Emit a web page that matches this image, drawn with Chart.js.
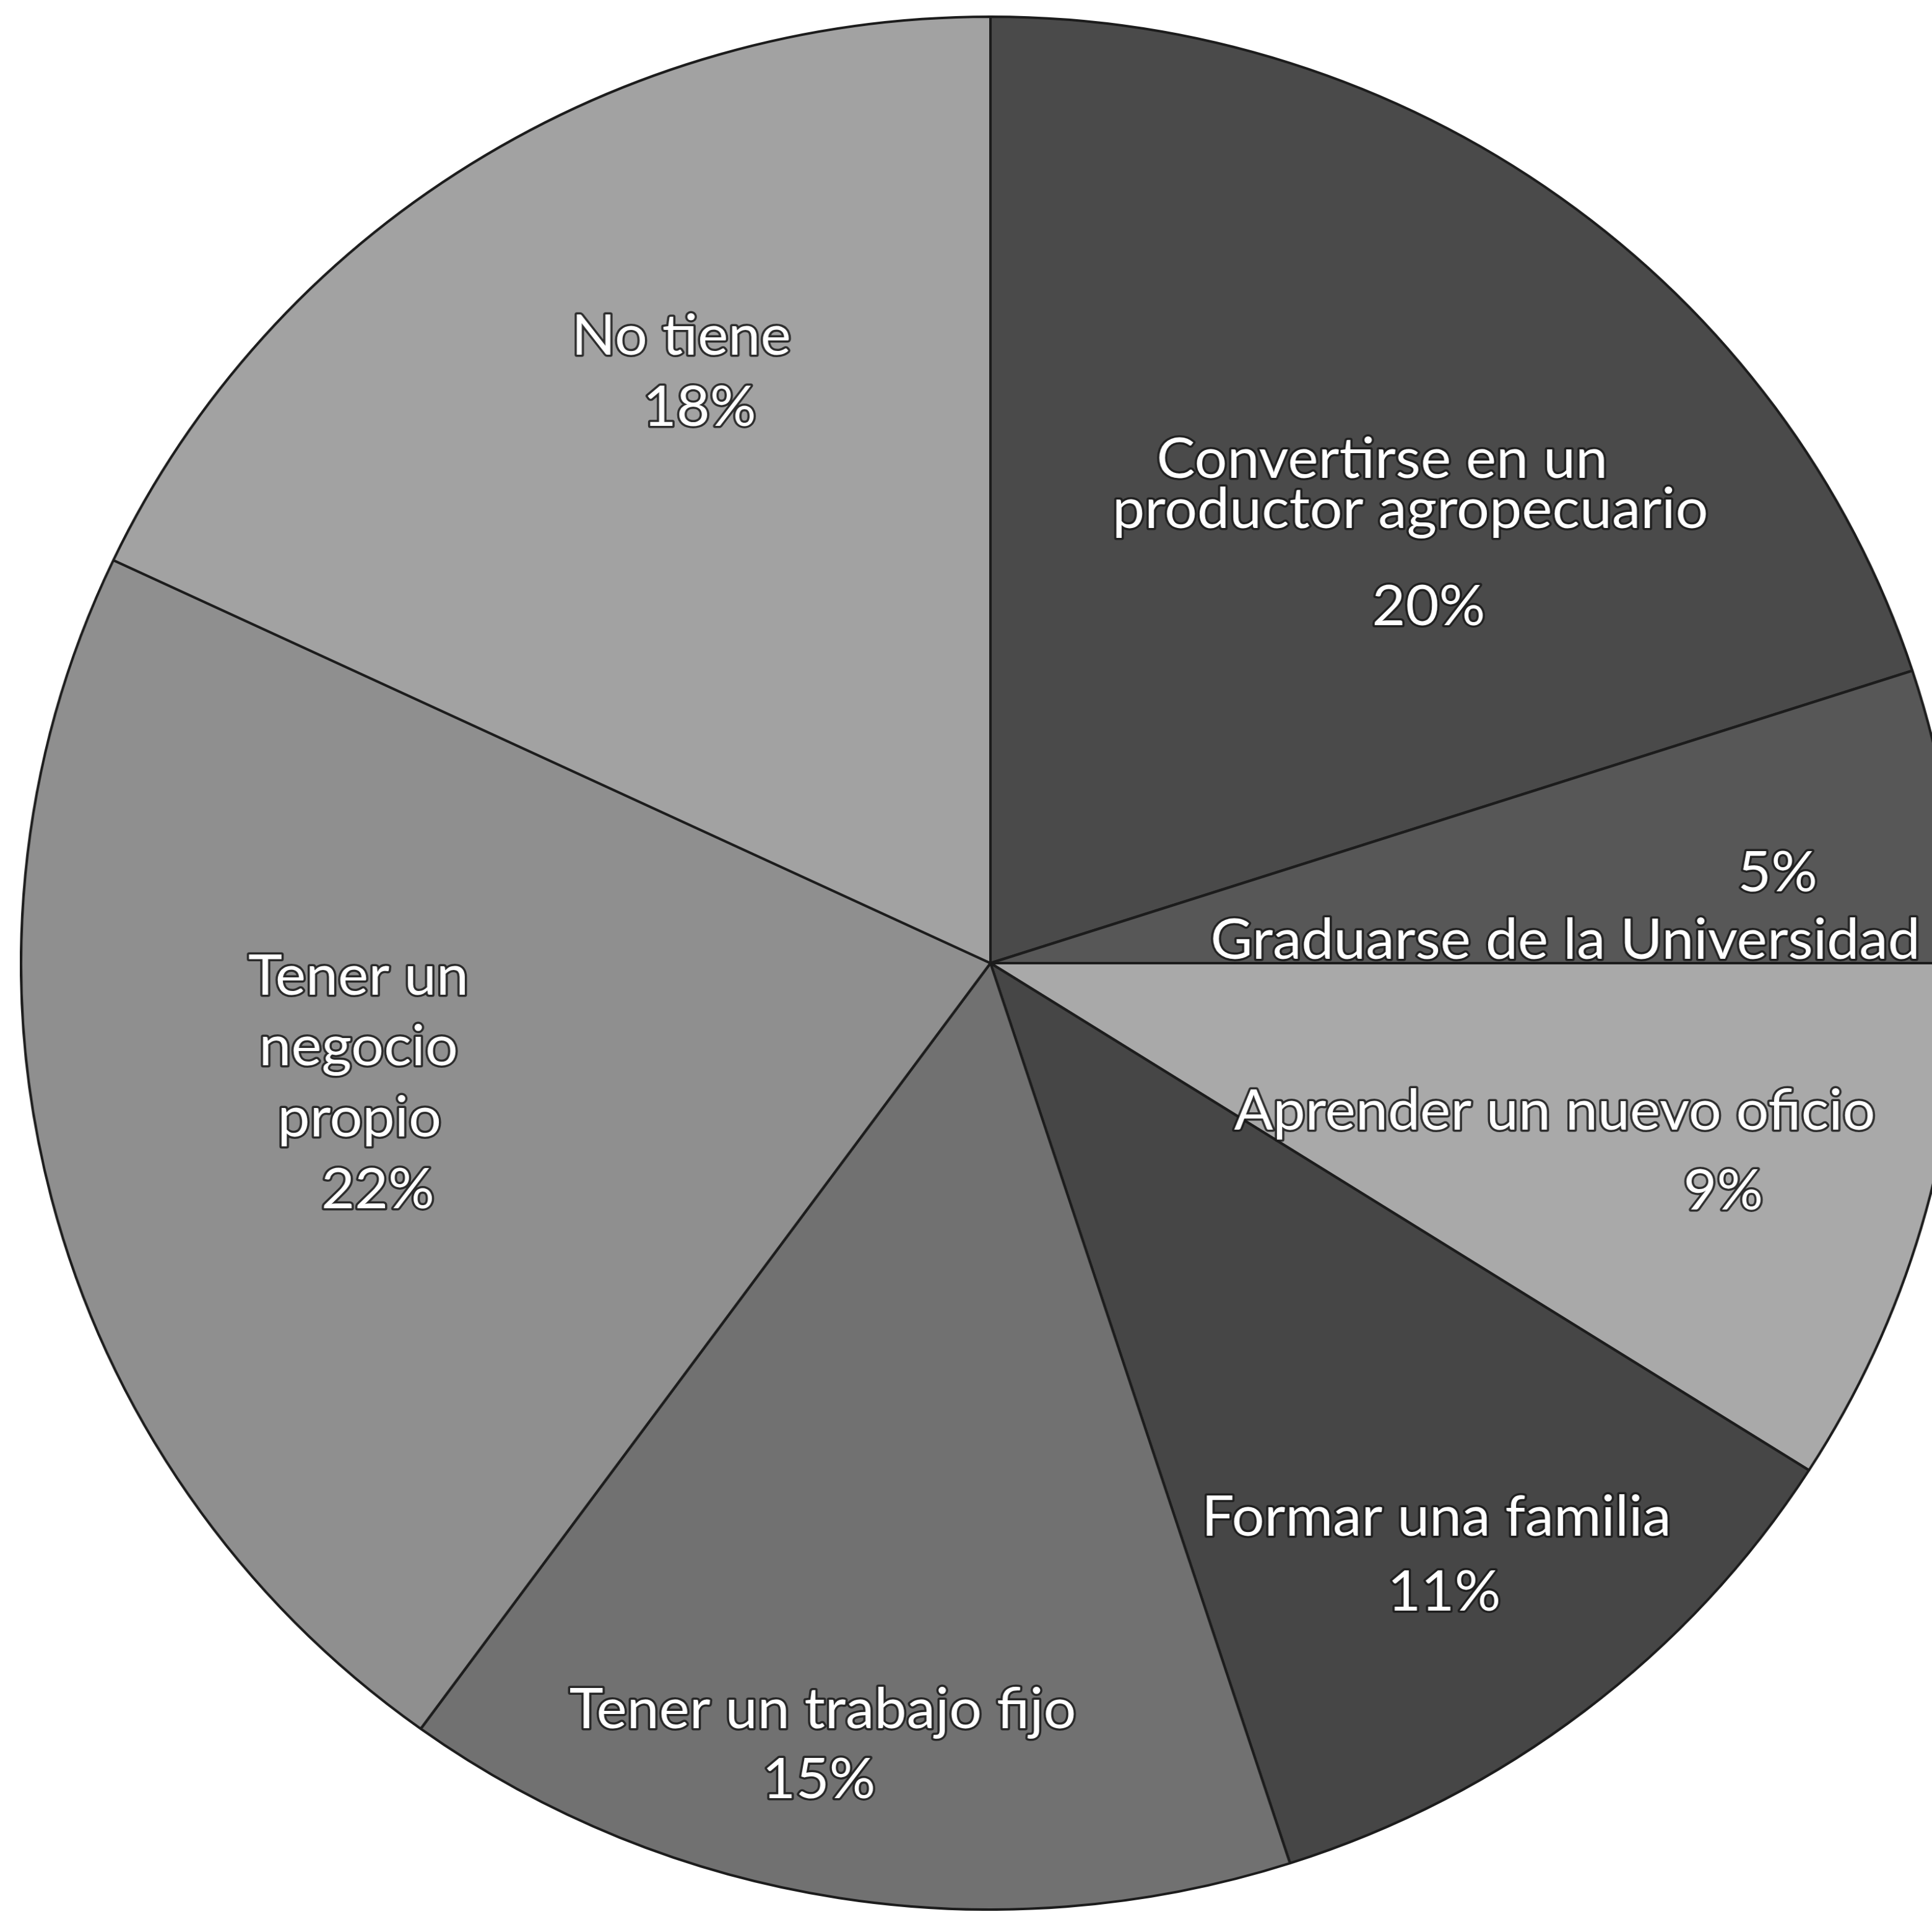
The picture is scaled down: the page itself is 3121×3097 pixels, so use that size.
<!DOCTYPE html>
<html>
<head>
<meta charset="utf-8">
<title>Metas a futuro</title>
<script src="https://cdn.jsdelivr.net/npm/chart.js@4.4.0/dist/chart.umd.min.js"></script>
<style>
  html, body { margin: 0; padding: 0; background: #fff; overflow: hidden; width: 3121px; height: 3097px; }
  #pie { position: absolute; left: 32px; top: 25px; }
</style>
</head>
<body>
<!-- the pie is a touch wider than tall, so the canvas is stretched sideways -->
<canvas id="pie" width="3062" height="3062" style="width: 3136px; height: 3062px;"></canvas>
<script>
// Slices, clockwise from 12 o'clock
const categories = [
    ['Convertirse en un', 'productor agropecuario'],
    ['Graduarse de la Universidad'],
    ['Aprender un nuevo oficio'],
    ['Formar una familia'],
    ['Tener un trabajo fijo'],
    ['Tener un', 'negocio', 'propio'],
    ['No tiene']
];
const shares = [20, 5, 9, 11, 15, 22, 18];

const sliceColors = ['#4a4a4a', '#575757', '#a9a9a9', '#464646', '#717171', '#8f8f8f', '#a2a2a2'];

// Where each text line sits, as fractions of the radius from the centre.
// name lines first, then the percentage line
const namePos = [
    [[0.404, -0.532], [0.433, -0.479]],
    [[0.593, -0.024]],
    [[0.582, 0.157]],
    [[0.460, 0.586]],
    [[-0.173, 0.789]],
    [[-0.652, 0.014], [-0.652, 0.089], [-0.651, 0.164]],
    [[-0.319, -0.662]]
];
const pctPos = [
    [0.452, -0.376],
    [0.812, -0.095],
    [0.756, 0.241],
    [0.468, 0.665],
    [-0.177, 0.863],
    [-0.632, 0.240],
    [-0.300, -0.587]
];

const labelFont = '91px Lato, "Open Sans", sans-serif';

const sliceLabels = {
    id: 'sliceLabels',
    afterDatasetsDraw(chart) {
        const ctx = chart.ctx;
        const arcs = chart.getDatasetMeta(0).data;
        ctx.save();
        ctx.font = labelFont;
        ctx.textAlign = 'center';
        ctx.textBaseline = 'middle';
        ctx.lineJoin = 'round';
        arcs.forEach((arc, i) => {
            const cx = arc.x, cy = arc.y, r = arc.outerRadius;
            const lines = categories[i].map((t, j) => [t, namePos[i][j]]);
            lines.push([shares[i] + '%', pctPos[i]]);
            lines.forEach(([text, p]) => {
                const x = cx + p[0] * r;
                const y = cy + p[1] * r;
                ctx.strokeStyle = 'rgba(25, 25, 25, 0.85)';
                ctx.lineWidth = 7;
                ctx.strokeText(text, x, y);
                ctx.fillStyle = '#ffffff';
                ctx.fillText(text, x, y);
            });
        });
        ctx.restore();
    }
};

new Chart(document.getElementById('pie'), {
    type: 'pie',
    data: {
        labels: categories,
        datasets: [{
            data: shares,
            backgroundColor: sliceColors,
            borderColor: '#1c1c1c',
            borderWidth: 4,
            hoverOffset: 0
        }]
    },
    options: {
        responsive: false,
        animation: false,
        events: [],
        layout: { padding: 0 },
        plugins: {
            legend: { display: false },
            tooltip: { enabled: false }
        }
    },
    plugins: [sliceLabels]
});
</script>
</body>
</html>
